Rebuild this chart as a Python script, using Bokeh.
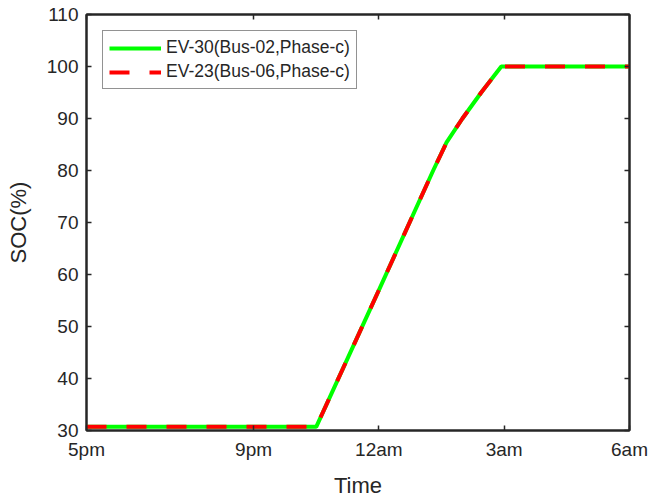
from bokeh.plotting import figure
from bokeh.models import FixedTicker, LinearAxis, Range1d, Legend, LegendItem
from bokeh.embed import file_html
from bokeh.resources import INLINE

# hours after 5pm
hours = [0, 5.5, 7.0, 8.3, 8.62, 9.0, 9.45, 9.93, 13]
soc_ev30 = [30.7, 30.7, 57.0, 80.0, 85.4, 90.0, 95.0, 100.0, 100.0]
soc_ev23 = [30.7, 30.7, 57.0, 80.0, 85.4, 90.0, 95.0, 100.0, 100.0]
x_ticks = [0, 4, 7, 10, 13]
x_tick_labels = ["5pm", "9pm", "12am", "3am", "6am"]
y_ticks = [30, 40, 50, 60, 70, 80, 90, 100, 110]
names = ["EV-30(Bus-02,Phase-c)", "EV-23(Bus-06,Phase-c)"]

FONT = "Liberation Sans"
DARK = "#262626"

p = figure(width=664, height=500, output_backend="svg", toolbar_location=None,
           x_range=Range1d(0, 13), y_range=Range1d(30, 110),
           min_border_left=86, min_border_right=35, min_border_top=14, min_border_bottom=68)
p.grid.visible = False
p.outline_line_color = DARK
p.outline_line_width = 2

for ax in [p.xaxis[0], p.yaxis[0]]:
    ax.major_tick_in = 5
    ax.major_tick_out = 0
    ax.minor_tick_line_color = None
    ax.axis_line_color = DARK
    ax.axis_line_width = 2
    ax.major_tick_line_color = DARK
    ax.major_tick_line_width = 1.5
    ax.major_label_text_font = FONT
    ax.major_label_text_font_size = "19px"
    ax.major_label_text_color = DARK
    ax.axis_label_text_font = FONT
    ax.axis_label_text_font_style = "normal"
    ax.axis_label_text_font_size = "22px"
    ax.axis_label_text_color = DARK

p.xaxis[0].ticker = FixedTicker(ticks=x_ticks)
p.xaxis[0].major_label_overrides = {t: l for t, l in zip(x_ticks, x_tick_labels)}
p.xaxis[0].major_label_standoff = 8
p.xaxis[0].axis_label = "Time"
p.xaxis[0].axis_label_standoff = 10
p.yaxis[0].ticker = FixedTicker(ticks=y_ticks)
p.yaxis[0].major_label_standoff = 8
p.yaxis[0].axis_label = "SOC(%)"
p.yaxis[0].axis_label_standoff = 13

# box ticks on top and right (no labels)
for loc, ticks in [("above", x_ticks), ("right", y_ticks)]:
    a = LinearAxis(ticker=FixedTicker(ticks=ticks), major_tick_in=5, major_tick_out=0,
                   minor_tick_line_color=None, axis_line_color=DARK, axis_line_width=2,
                   major_tick_line_color=DARK, major_tick_line_width=1.5,
                   major_label_overrides={t: "" for t in ticks},
                   major_label_text_font_size="1px", major_label_standoff=0)
    p.add_layout(a, loc)

r1 = p.line(hours, soc_ev30, line_color="#00FF00", line_width=4)
r2 = p.line(hours, soc_ev23, line_color="#FF0000", line_width=4, line_dash="20 20")

legend = Legend(items=[LegendItem(label=names[0], renderers=[r1]),
                       LegendItem(label=names[1], renderers=[r2])],
                location="top_left", margin=16, padding=6, spacing=3,
                label_text_font=FONT, label_text_font_size="17.5px", label_text_color=DARK,
                glyph_width=52, glyph_height=20, label_height=20, label_standoff=5,
                border_line_color=DARK, border_line_width=1, background_fill_alpha=1)
p.add_layout(legend)

open("out.html", "w").write(file_html(p, INLINE))
